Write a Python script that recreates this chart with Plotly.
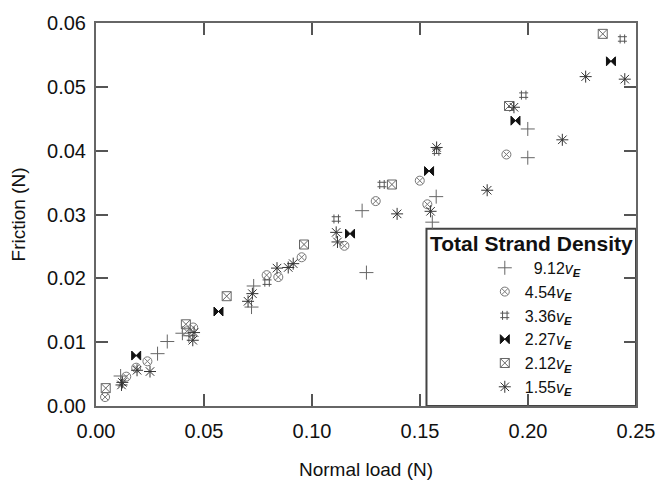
import plotly.graph_objects as go

# 9.12 vE
load_912 = [0.0114, 0.0285, 0.033, 0.040, 0.043, 0.073, 0.072, 0.1232, 0.1252, 0.1557, 0.1575, 0.1999, 0.1999]
fric_912 = [0.0047, 0.0082, 0.0101, 0.0114, 0.0110, 0.0188, 0.0155, 0.0306, 0.0209, 0.0288, 0.0328, 0.0434, 0.0389]

# 4.54 vE
load_454 = [0.0042, 0.014, 0.0186, 0.0238, 0.042, 0.045, 0.079, 0.0844, 0.0952, 0.115, 0.1295, 0.1499, 0.1534, 0.19]
fric_454 = [0.0014, 0.0046, 0.0060, 0.0070, 0.0117, 0.0123, 0.0205, 0.0202, 0.0233, 0.0251, 0.0321, 0.0353, 0.0316, 0.0394]

# 3.36 vE
load_336 = [0.0792, 0.1112, 0.1324, 0.1577, 0.198, 0.2437]
fric_336 = [0.0194, 0.0293, 0.0347, 0.0399, 0.0487, 0.0575]

# 2.27 vE
load_227 = [0.0186, 0.0567, 0.1176, 0.1542, 0.1942, 0.2384]
fric_227 = [0.0079, 0.0148, 0.0270, 0.0368, 0.0447, 0.0540]

# 2.12 vE
load_212 = [0.0045, 0.0416, 0.0605, 0.0963, 0.137, 0.1912, 0.2346]
fric_212 = [0.0028, 0.0128, 0.0172, 0.0253, 0.0347, 0.0470, 0.0583]

# 1.55 vE
load_155 = [0.0118, 0.0122, 0.019, 0.025, 0.0448, 0.0454, 0.0704, 0.0724, 0.0838, 0.089, 0.0913,
            0.1112, 0.1118, 0.1394, 0.1549, 0.1577, 0.1811, 0.1935, 0.2159, 0.2267, 0.2448]
fric_155 = [0.0033, 0.0037, 0.0056, 0.0054, 0.0103, 0.0115, 0.0164, 0.0176, 0.0216, 0.0217, 0.0223,
            0.0272, 0.0257, 0.0301, 0.0305, 0.0405, 0.0338, 0.0468, 0.0417, 0.0516, 0.0512]

series = [
    ("\u00a0\u00a09.12", load_912, fric_912, "cross-thin-open", "#666666", 10),
    ("4.54", load_454, fric_454, "circle-x-open", "#777777", 9),
    ("3.36", load_336, fric_336, "hash-open", "#555555", 9),
    ("2.27", load_227, fric_227, "bowtie", "#111111", 9),
    ("2.12", load_212, fric_212, "square-x-open", "#666666", 9),
    ("1.55", load_155, fric_155, "asterisk-open", "#333333", 10),
]

font = "Liberation Sans, Arial, sans-serif"

fig = go.Figure()
for label, xs, ys, sym, col, sz in series:
    fig.add_trace(go.Scatter(
        x=xs, y=ys, mode="markers",
        name=f"{label}<i>v</i><sub><b><i>E</i></b></sub>",
        marker=dict(symbol=sym, color=col, size=sz, line=dict(color=col, width=1)),
    ))

axis_common = dict(
    showline=True, linecolor="#666666", linewidth=2, mirror="ticks",
    ticks="inside", ticklen=12, tickwidth=2, tickcolor="#555555",
    showgrid=False, zeroline=False, tickformat=".2f",
    tickfont=dict(family=font, size=20, color="#111111"),
)

fig.update_xaxes(range=[0, 0.25], dtick=0.05, ticklabelstandoff=6,
                 title=dict(text="Normal load (N)", font=dict(family=font, size=19, color="#111111"), standoff=22),
                 **axis_common)
fig.update_yaxes(range=[0, 0.06], dtick=0.01, ticklabelstandoff=4,
                 title=dict(text="Friction (N)", font=dict(family=font, size=19, color="#111111"), standoff=16),
                 **axis_common)

# legend frame and title
fig.add_shape(type="rect", xref="paper", yref="paper", x0=0.612, x1=1.0, y0=0.0, y1=0.463,
              line=dict(color="#444444", width=2), fillcolor="white", layer="below")
fig.add_annotation(text="<b>Total Strand Density</b>", xref="paper", yref="paper",
                   x=0.806, y=0.425, xanchor="center", yanchor="middle", showarrow=False,
                   font=dict(family=font, size=21, color="#111111"))

fig.update_layout(
    width=667, height=489,
    margin=dict(l=96, r=24, t=22, b=77),
    paper_bgcolor="white", plot_bgcolor="white",
    font=dict(family=font, color="#111111"),
    legend=dict(x=0.72, xanchor="left", y=0.405, yanchor="top",
                bgcolor="rgba(0,0,0,0)", borderwidth=0,
                font=dict(family=font, size=16, color="#111111")),
)

# drop the browser's default body margin so the figure sits at the window corner
fig.write_html("out.html", config={"displayModeBar": False},
               post_script="document.body.style.margin='0';")
